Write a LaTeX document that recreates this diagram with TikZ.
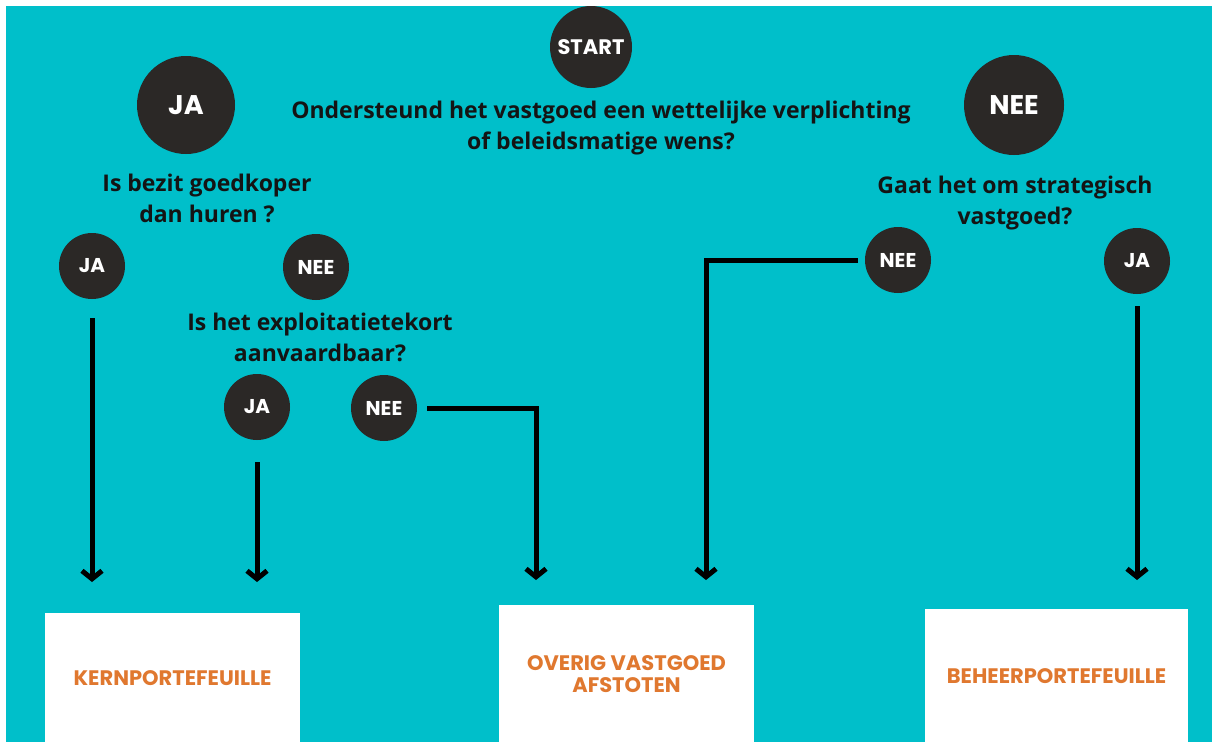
\documentclass[tikz,border=0pt]{standalone}
\usepackage{fontspec}
\setmainfont{Open Sans}
\newfontfamily\roundfont{Poppins}
\usetikzlibrary{arrows.meta,positioning}
\definecolor{lagoon}{HTML}{00BFCA}
\definecolor{coal}{HTML}{2B2826}
\definecolor{rust}{HTML}{E0782F}

\begin{document}
\begin{tikzpicture}[x=1pt,y=-1pt,
    bol/.style={circle, fill=coal, text=white, inner sep=0pt, minimum size=66pt,
      font=\roundfont\bfseries\fontsize{20}{20}\selectfont},
    grotebol/.style={bol, minimum size=98pt, font=\roundfont\bfseries\fontsize{27}{27}\selectfont},
    vraag/.style={align=center, text=black!92, font=\bfseries\fontsize{23}{31}\selectfont},
    uitkomst/.style={fill=white, text=rust, align=center, anchor=north, minimum width=255pt,
      font=\roundfont\bfseries\fontsize{21}{22}\selectfont},
    pijl/.style={line width=5pt, -{Straight Barb[length=8pt,width=20pt]}}]
  \useasboundingbox (0,0) rectangle (1212,742);
  \fill[white] (0,0) rectangle (1212,742);
  \fill[lagoon] (6,6) rectangle (1212,742);
  % start en eerste vraag
  \node[bol, minimum size=82pt, font=\roundfont\bfseries\fontsize{21}{21}\selectfont] (start) at (591,47) {START};
  \node[vraag] (wens) at (601,128) {Ondersteund het vastgoed een wettelijke verplichting\\of beleidsmatige wens?};
  % linker tak
  \node[grotebol] (ja) at (186,105) {JA};
  \node[vraag] (bezit) at (207,198) {Is bezit goedkoper\\dan huren ?};
  \node[bol] (jaB) at (92,266) {JA};
  \node[bol] (neeB) at (316,267) {NEE};
  \node[vraag] (tekort) at (320,337) {Is het exploitatietekort\\aanvaardbaar?};
  \node[bol] (jaT) at (257,407) {JA};
  \node[bol] (neeT) at (384,408) {NEE};
  % rechter tak
  \node[grotebol, minimum size=100pt] (nee) at (1014,105) {NEE};
  \node[vraag] (strat) at (1015,203) {Gaat het om strategisch\\vastgoed?};
  \node[bol] (neeS) at (898,260) {NEE};
  \node[bol] (jaS) at (1137,261) {JA};
  % uitkomsten
  \node[uitkomst, minimum height=129pt] (kern) at (172.5,613) {KERNPORTEFEUILLE};
  \node[uitkomst, minimum height=137pt] (overig) at (626.5,605) {OVERIG VASTGOED\\AFSTOTEN};
  \node[uitkomst, minimum height=133pt, minimum width=263pt] (beheer) at (1056.5,609) {BEHEERPORTEFEUILLE};
  \coordinate (hoekT) at (536,580);
  \coordinate (hoekS) at (706,580);
  % pijlen
  \draw[pijl, shorten <=19pt, shorten >=31pt] (jaB) -- (jaB |- kern.north);
  \draw[pijl, shorten <=22pt, shorten >=31pt] (jaT) -- (jaT |- kern.north);
  \draw[pijl, shorten <=10pt] (neeT) -| (hoekT);
  \draw[pijl, shorten <=7pt] (neeS) -| (hoekS);
  \draw[pijl, shorten <=12pt, shorten >=29pt] (jaS) -- (jaS |- beheer.north);
\end{tikzpicture}
\end{document}
